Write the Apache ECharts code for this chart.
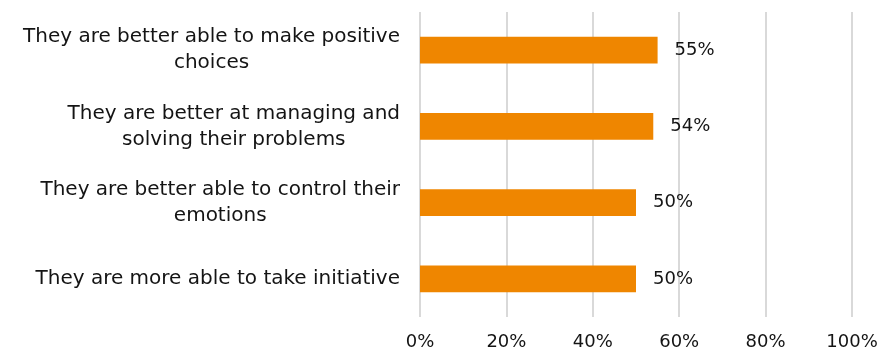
<!DOCTYPE html>
<html>
<head>
<meta charset="utf-8">
<script src="https://cdn.jsdelivr.net/npm/echarts@6/dist/echarts.min.js"></script>
<style>
  html, body { margin: 0; padding: 0; background: #fff; }
  #chart { width: 886px; height: 352px; }
</style>
</head>
<body>
<div id="chart"></div>
<script>
// Statements, top to bottom as shown
const categories = [
  'They are better able to make positive\nchoices',
  'They are better at managing and\nsolving their problems',
  'They are better able to control their\nemotions',
  'They are more able to take initiative'
];
const values = [55, 54, 50, 50];
const tickValues = [0, 20, 40, 60, 80, 100];

const FONT = 'DejaVu Sans';
const CAT_SIZE = 20;
const NUM_SIZE = 18;
const INK = '#141414';

const chart = echarts.init(document.getElementById('chart'), null, { renderer: 'canvas' });

chart.setOption({
  animation: false,
  textStyle: { fontFamily: FONT },
  grid: { left: 420, right: 34, top: 12, bottom: 35, containLabel: false },
  xAxis: {
    type: 'value',
    min: tickValues[0],
    max: tickValues[tickValues.length - 1],
    interval: 20,
    axisLine: { show: false },
    axisTick: { show: false },
    splitLine: { show: true, lineStyle: { color: '#d9d9d9', width: 2 } },
    axisLabel: {
      margin: 16,
      fontFamily: FONT,
      fontSize: NUM_SIZE,
      color: INK,
      formatter: v => v + '%'
    }
  },
  yAxis: {
    type: 'category',
    inverse: true,
    data: categories,
    axisLine: { show: false },
    axisTick: { show: false },
    axisLabel: {
      margin: 20,
      align: 'right',
      fontFamily: FONT,
      fontSize: CAT_SIZE,
      color: INK,
      lineHeight: 26,
      // each line centred within the label block
      formatter: v => v.split('\n').map(s => '{c|' + s + '}').join('\n'),
      rich: {
        c: { align: 'center', fontFamily: FONT, fontSize: CAT_SIZE, lineHeight: 26, color: INK }
      }
    }
  },
  series: [{
    type: 'bar',
    data: values,
    barWidth: '35%',
    itemStyle: { color: '#EF8600' },
    label: {
      show: true,
      position: 'right',
      distance: 17,
      fontFamily: FONT,
      fontSize: NUM_SIZE,
      color: INK,
      formatter: p => p.value + '%'
    }
  }]
});
</script>
</body>
</html>
